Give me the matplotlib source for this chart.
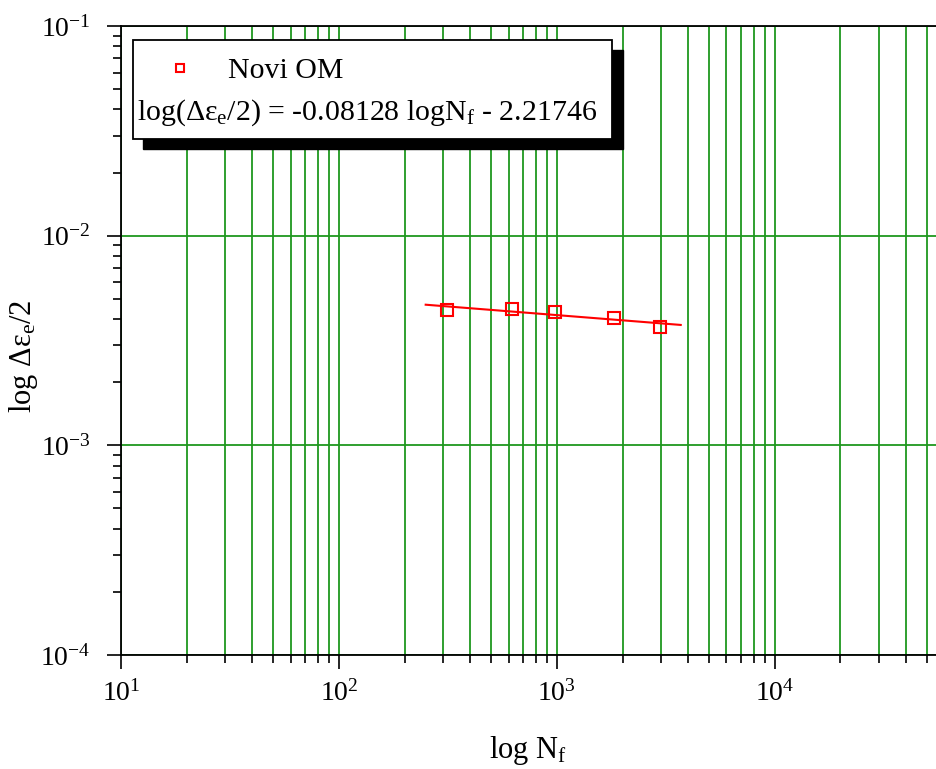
import numpy as np
import matplotlib.pyplot as plt
from matplotlib.patches import Rectangle
from matplotlib.ticker import LogLocator, NullFormatter

plt.rcParams['font.family'] = ['Liberation Serif', 'DejaVu Serif']
plt.rcParams['mathtext.fontset'] = 'custom'
plt.rcParams['mathtext.rm'] = 'Liberation Serif'
plt.rcParams['mathtext.it'] = 'Liberation Serif'
plt.rcParams['axes.unicode_minus'] = False

# data
cycles = [312, 621, 979, 1828, 2976]
strain_amp = [0.00442, 0.00447, 0.00433, 0.00405, 0.00367]
fit_range = [250, 3700]
series_label = "Novi OM"
fit_text = r"log($\Delta\varepsilon_{e}$/2) = -0.08128 logN$_{f}$ - 2.21746"

# fit in log space
a, b = np.polyfit(np.log10(cycles), np.log10(strain_amp), 1)
xf = np.array(fit_range, dtype=float)
yf = 10 ** (a * np.log10(xf) + b)

W, H = 936, 769
fig = plt.figure(figsize=(9.36, 7.69), dpi=100)
ax = fig.add_axes([121 / W, 1 - 655 / H, 1 - 121 / W + 0.002, (655 - 26) / H])

grid_green = '#1f971f'
ax.set_xscale('log')
ax.set_yscale('log')
ax.set_xlim(10, 10 ** 4.748)
ax.set_ylim(1e-4, 1e-1)

ax.xaxis.set_minor_locator(LogLocator(base=10, subs=np.arange(2, 10)))
ax.xaxis.set_minor_formatter(NullFormatter())
ax.yaxis.set_minor_locator(LogLocator(base=10, subs=np.arange(2, 10)))
ax.yaxis.set_minor_formatter(NullFormatter())
ax.grid(True, which='both', axis='x', color=grid_green, lw=1.3)
ax.grid(True, which='major', axis='y', color=grid_green, lw=1.3)
ax.set_axisbelow(True)

ax.tick_params(which='major', direction='out', length=10, width=1.2, labelsize=20)
ax.tick_params(which='minor', direction='out', length=5.5, width=1.2)
ax.tick_params(axis='x', which='major', pad=8)
ax.tick_params(axis='y', which='major', pad=12)
for s in ['left', 'bottom', 'top']:
    ax.spines[s].set_linewidth(1.3)
ax.spines['right'].set_visible(False)

ax.plot(xf, yf, color='red', lw=1.5, zorder=3)
ax.plot(cycles, strain_amp, ls='none', marker='s', ms=8, mfc='none',
        mec='red', mew=1.5, zorder=4)

# axis titles
fig.text(528 / W, 1 - 758 / H, r"log N$_{f}$", fontsize=22, ha='center', va='baseline')
fig.text(24 / W, 1 - 356 / H, r"log $\Delta\varepsilon_{e}$/2", fontsize=22,
         rotation=90, ha='center', va='center')

# legend box with shadow (figure pixel coordinates)
def fbox(x0, y0, x1, y1):
    return (x0 / W, 1 - y1 / H), (x1 - x0) / W, (y1 - y0) / H

xy, w, h = fbox(143, 50, 623, 149)
fig.add_artist(Rectangle(xy, w, h, transform=fig.transFigure,
                         facecolor='black', edgecolor='black', zorder=5))
xy, w, h = fbox(133, 40, 612, 139)
fig.add_artist(Rectangle(xy, w, h, transform=fig.transFigure,
                         facecolor='white', edgecolor='black', lw=1.3, zorder=6))
fig.add_artist(plt.Line2D([180 / W], [1 - 68 / H], transform=fig.transFigure,
                          marker='s', ms=6, mfc='none', mec='red', mew=1.5,
                          ls='none', zorder=7))
fig.text(228 / W, 1 - 78 / H, series_label, fontsize=21.5, va='baseline',
         ha='left', zorder=7)
fig.text(137 / W, 1 - 120 / H, fit_text, fontsize=21.5, va='baseline',
         ha='left', zorder=7)

fig.savefig('out.png', dpi=100)
